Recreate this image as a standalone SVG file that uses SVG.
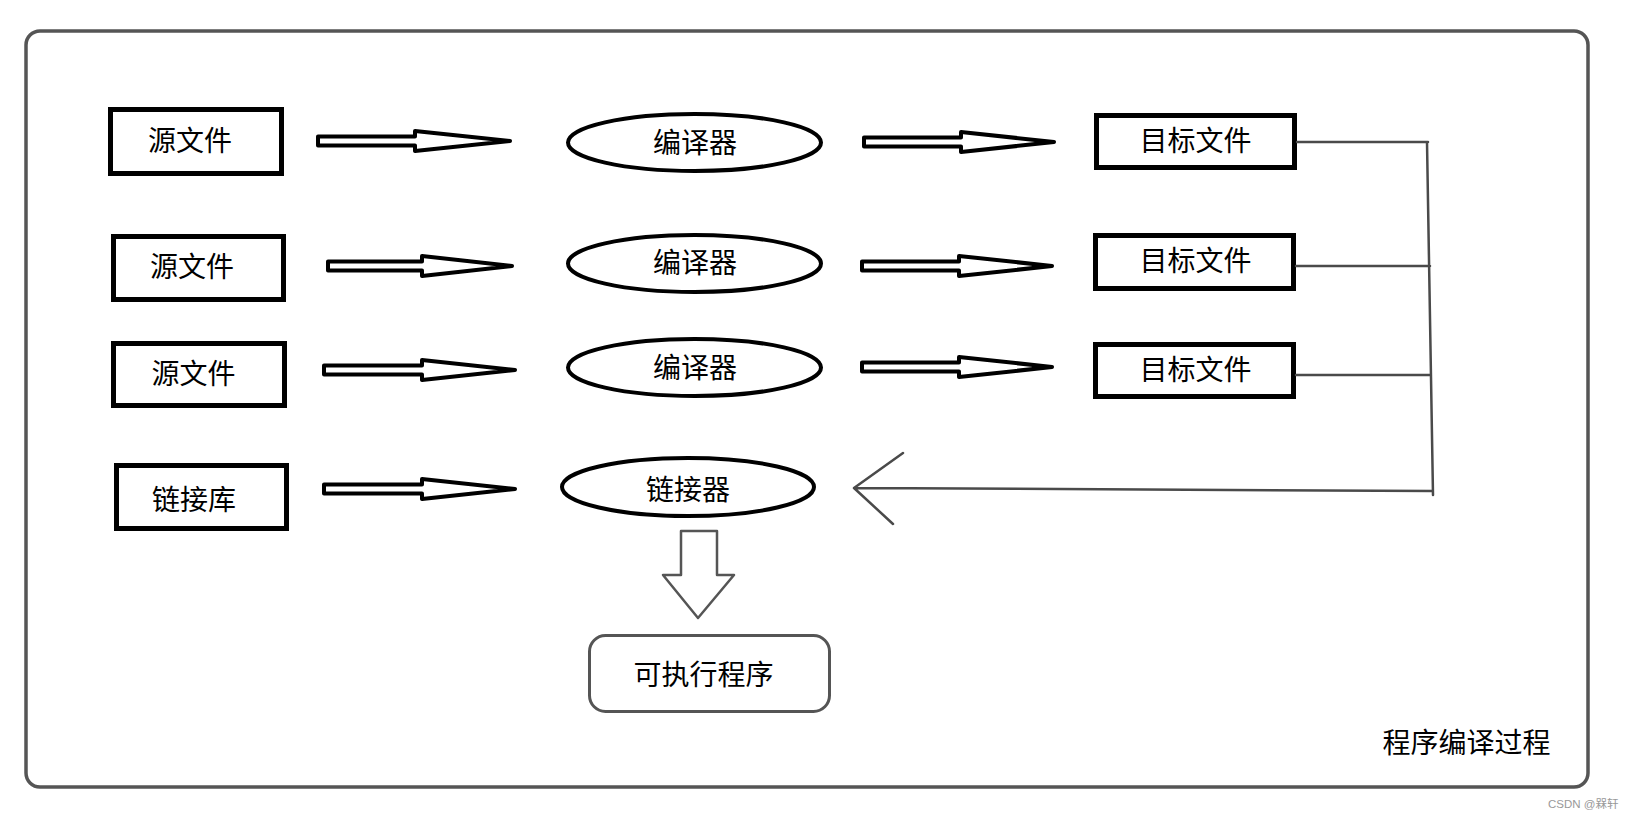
<svg xmlns="http://www.w3.org/2000/svg" width="1630" height="820" viewBox="0 0 1630 820">
<style>
  .lbl { font-family: "Noto Sans CJK SC", "Noto Sans", sans-serif; font-size: 28px; fill: #000; text-anchor: middle; }
  .box { fill: #fff; stroke: #000; stroke-width: 5; }
  .ell { fill: #fff; stroke: #000; stroke-width: 4; }
  .blk { fill: #fff; stroke: #000; stroke-width: 4; stroke-linejoin: round; }
  .pen { fill: none; stroke: #4a4a4a; stroke-width: 2.5; stroke-linecap: round; stroke-linejoin: round; }
  .penfill { fill: #fff; stroke: #555; stroke-width: 2.5; stroke-linejoin: round; }
  .frame { fill: #fff; stroke: #555; stroke-width: 3.5; }
  .wm { font-family: "Liberation Sans", "Noto Sans CJK SC", sans-serif; font-size: 11.5px; fill: #999; }
</style>
<rect width="1630" height="820" fill="#fff"/>
<rect class="frame" x="26" y="31" width="1562" height="756" rx="14"/>

<g id="src1"><rect class="box" x="110.5" y="109.5" width="171" height="64"/><text class="lbl" x="190" y="151">源文件</text></g>
<g id="src2"><rect class="box" x="113.5" y="236.5" width="170" height="63"/><text class="lbl" x="192" y="277">源文件</text></g>
<g id="src3"><rect class="box" x="113.5" y="343.5" width="171" height="62"/><text class="lbl" x="193.5" y="384">源文件</text></g>
<g id="lib"><rect class="box" x="116.5" y="465.5" width="170" height="63"/><text class="lbl" x="194" y="510">链接库</text></g>

<g id="cc1"><ellipse class="ell" cx="694.5" cy="142.5" rx="126.5" ry="28.5"/><text class="lbl" x="695" y="153">编译器</text></g>
<g id="cc2"><ellipse class="ell" cx="694.5" cy="263.5" rx="126.5" ry="28.5"/><text class="lbl" x="695" y="273">编译器</text></g>
<g id="cc3"><ellipse class="ell" cx="694.5" cy="367.5" rx="126.5" ry="28.5"/><text class="lbl" x="695" y="378">编译器</text></g>
<g id="linker"><ellipse class="ell" cx="688" cy="487" rx="126" ry="29"/><text class="lbl" x="688" y="500">链接器</text></g>

<g id="obj1"><rect class="box" x="1096.5" y="115.5" width="198" height="52"/><text class="lbl" x="1195.5" y="151">目标文件</text></g>
<g id="obj2"><rect class="box" x="1095.5" y="235.5" width="198" height="53"/><text class="lbl" x="1195.5" y="271">目标文件</text></g>
<g id="obj3"><rect class="box" x="1095.5" y="344.5" width="198" height="52"/><text class="lbl" x="1195.5" y="380">目标文件</text></g>

<g id="exe"><rect class="penfill" x="589.5" y="635.5" width="240" height="76" rx="16" style="stroke-width:3"/><text class="lbl" x="703.5" y="685">可执行程序</text></g>

<g id="connectors">
  <polygon class="blk" points="318,136.5 415,136.5 415,131 510,141 415,151 415,145.5 318,145.5"/>
  <polygon class="blk" points="328,261.5 422,261.5 422,256 512,266 422,276 422,270.5 328,270.5"/>
  <polygon class="blk" points="324,365.5 422,365.5 422,360 515,370 422,380 422,374.5 324,374.5"/>
  <polygon class="blk" points="324,484.5 422,484.5 422,479 515,489 422,499 422,493.5 324,493.5"/>
  <polygon class="blk" points="864,137.5 961,137.5 961,132 1054,142 961,152 961,146.5 864,146.5"/>
  <polygon class="blk" points="862,261.5 959,261.5 959,256 1052,266 959,276 959,270.5 862,270.5"/>
  <polygon class="blk" points="862,362.5 959,362.5 959,357 1052,367 959,377 959,371.5 862,371.5"/>
  <path class="pen" d="M1297,142 L1428,142 M1296,266 L1430,266 M1296,375 L1431,375 M1427,142 L1433,495 M1433,491 L855,488 M903,453 L854,488 L893,524"/>
  <polygon class="penfill" points="681,531 717,531 717,575 734,575 698,618 663,575 681,575"/>
</g>

<text class="lbl" x="1466.5" y="753">程序编译过程</text>
<text class="wm" x="1548" y="808">CSDN @槑轩</text>
</svg>
